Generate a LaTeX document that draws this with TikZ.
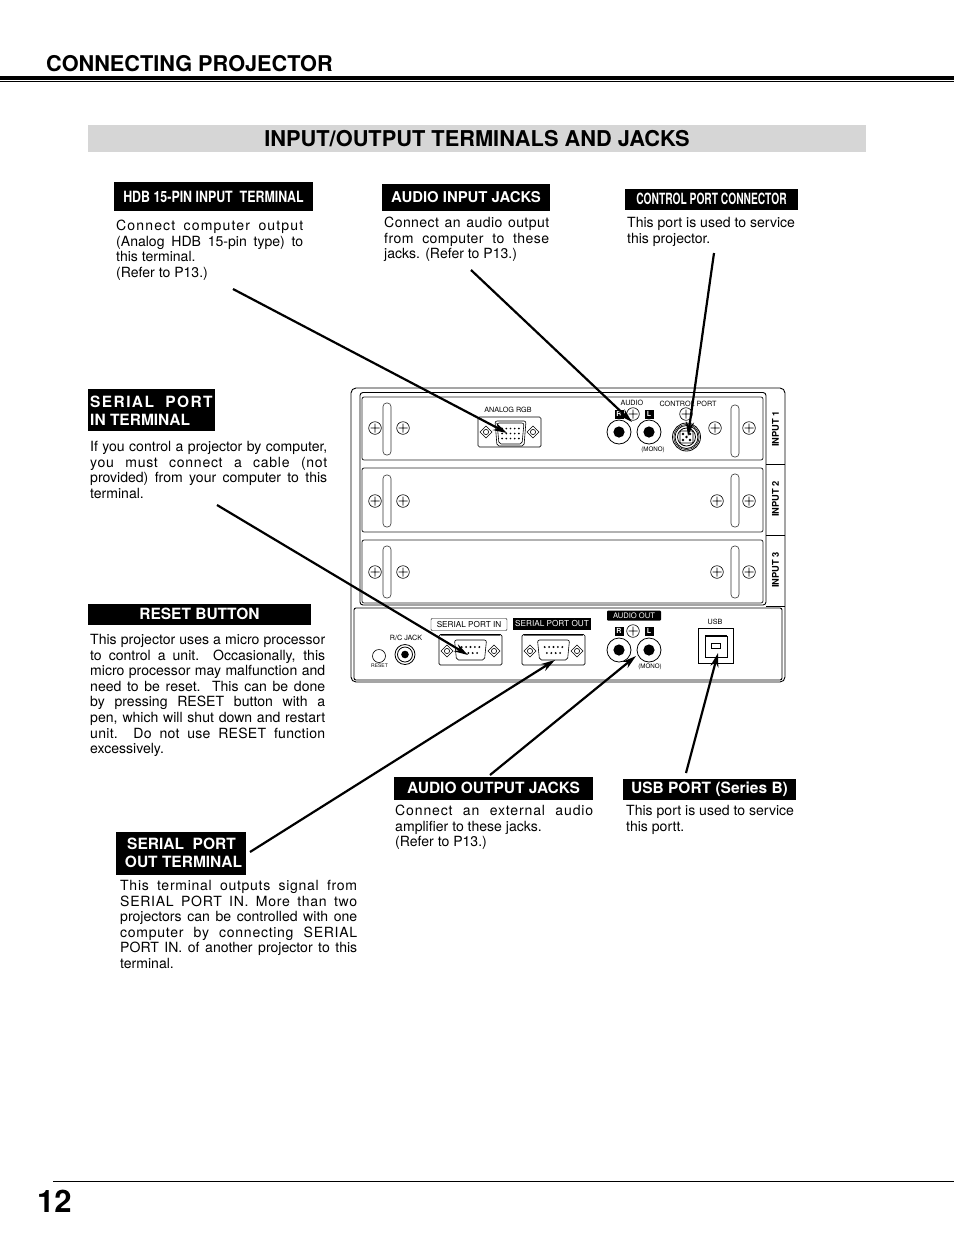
\documentclass[tikz,border=0pt]{standalone}
\usepackage{fontspec}
\usepackage{graphicx}
\setmainfont{TeX Gyre Heros}
\usetikzlibrary{arrows.meta}
\definecolor{band}{HTML}{D6D6D6}
\newcommand{\J}[2]{\makebox[#1pt][s]{#2}}
\newcommand{\LJ}[3]{\makebox[#2pt][s]{\addfontfeature{LetterSpace=#1}#3}}
\newcommand{\scr}[2]{\draw[panel] (#1,#2) circle (6.3) (#1-4.5,#2)--(#1+4.5,#2) (#1,#2-4.5)--(#1,#2+4.5);}
\newcommand{\slot}[3]{\draw[panel,rounded corners=3.5,draw=black!80] (#1,#2) rectangle (#1+8,#3);}
\newcommand{\jack}[2]{\draw[line width=.8pt,fill=white] (#1,#2) circle (12); \fill (#1,#2) circle (5.6);}
\newcommand{\diam}[2]{\draw[panel] (#1,#2-6)--(#1+6,#2)--(#1,#2+6)--(#1-6,#2)--cycle (#1,#2) circle (2.6);}
\newcommand{\dbshell}[2]{\draw[panel,rounded corners=2,line width=.6pt] (#1-16,#2-10)--(#1+16,#2-10)--(#1+14,#2+10)--(#1-14,#2+10)--cycle;}
\newcommand{\dbpins}[2]{\foreach \i in {-2,...,2}{\fill (#1+\i*4.4,#2-3) circle (1.05);}\foreach \i in {-1.5,-.5,.5,1.5}{\fill (#1+\i*4.4,#2+3) circle (1.05);}}
\tikzset{
 panel/.style={line width=.6pt},
 lab/.style={fill=black,text=white,font=\bfseries\fontsize{15.5}{17}\selectfont,inner sep=0,align=center},
 para/.style={anchor=north west,inner sep=0,align=left,font=\fontsize{14.05}{15.6}\selectfont},
 tiny/.style={inner sep=0,font=\fontsize{7.2}{8}\selectfont},
 ptr/.style={line width=2.2pt,-{Stealth[length=14pt,width=8pt]}},
 inp/.style={inner sep=0,rotate=90,font=\bfseries\fontsize{9.3}{10}\selectfont},
}
\begin{document}
\begin{tikzpicture}[x=1pt,y=-1pt]
\useasboundingbox (0,0) rectangle (954,1235);
% header
\node[anchor=base west,inner sep=0,font=\bfseries\fontsize{21.7}{24}\selectfont] (head) at (46,71) {CONNECTING PROJECTOR};
\fill (0,76) rectangle (954,80);
\fill (0,81) rectangle (954,81.8);
\node[fill=band,minimum width=778pt,minimum height=27pt,inner sep=0,anchor=north west] (band) at (88,125) {};
\node[inner sep=0,font=\bfseries\fontsize{21.8}{24}\selectfont] (title) at (477,138.5) {INPUT/OUTPUT TERMINALS AND JACKS};
% footer
\draw[line width=.8pt] (53,1181.5)--(954,1181.5);
\node[anchor=base west,inner sep=0,font=\bfseries\fontsize{31}{34}\selectfont] (page) at (37,1212) {12};
% label boxes
\node[lab,minimum width=199pt,minimum height=29pt] (l1) at (213.5,196.5) {\scalebox{.8}[1]{HDB 15-PIN INPUT\ \ TERMINAL}};
\node[lab,font=\bfseries\fontsize{14.9}{17}\selectfont,minimum width=168pt,minimum height=27pt] (l2) at (466,197.5) {AUDIO INPUT JACKS};
\node[lab,minimum width=173pt,minimum height=21pt] (l3) at (711.5,199) {\scalebox{.66}[1]{CONTROL PORT CONNECTOR}};
\node[fill=black,minimum width=127pt,minimum height=42pt,inner sep=0] (l4) at (151.5,410) {};
\node[anchor=base west,inner sep=0,text=white,font=\bfseries\fontsize{15.5}{17}\selectfont] (l4a) at (90,407) {\addfontfeature{LetterSpace=9}SERIAL\ \ PORT};
\node[anchor=base west,inner sep=0,text=white,font=\bfseries\fontsize{15.5}{17}\selectfont] (l4b) at (90,425) {IN TERMINAL};
\node[lab,minimum width=223pt,minimum height=21pt] (l5) at (199.5,614) {RESET BUTTON};
\node[lab,minimum width=199pt,minimum height=23pt] (l6) at (493.5,788) {AUDIO OUTPUT JACKS};
\node[lab,minimum width=173pt,minimum height=21pt] (l7) at (709.5,789.5) {USB PORT (Series B)};
\node[lab,minimum width=130pt,minimum height=43pt] (l8) at (181,853.5) {};
\node[anchor=base,inner sep=0,text=white,font=\bfseries\fontsize{15.5}{17}\selectfont] (l8a) at (181.5,849) {SERIAL\ \ PORT};
\node[anchor=base,inner sep=0,text=white,font=\bfseries\fontsize{15.5}{17}\selectfont] (l8b) at (183.5,867) {OUT TERMINAL};
% paragraphs
\node[para] (p1) at (116,220) {\LJ{8}{187}{Connect computer output}\\\J{187}{(Analog HDB 15-pin type) to}\\this terminal.\\(Refer to P13.)};
\node[para] (p2) at (384,217) {\LJ{3}{165}{Connect an audio output}\\\LJ{3}{165}{from computer to these}\\jacks. (Refer to P13.)};
\node[para] (p3) at (627,217) {This port is used to service\\this projector.};
\node[para] (p4) at (90,441) {\J{237}{If you control a projector by computer,}\\\LJ{5}{237}{you must connect a cable (not}\\\J{237}{provided) from your computer to this}\\terminal.};
\node[para] (p5) at (90,634) {\J{235}{This projector uses a micro processor}\\\J{235}{to control a unit.\ \ Occasionally, this}\\\J{235}{micro processor may malfunction and}\\\J{235}{need to be reset.\ \ This can be done}\\\J{235}{by pressing RESET button with a}\\\J{235}{pen, which will shut down and restart}\\\LJ{2}{235}{unit.\ \ Do not use RESET function}\\excessively.};
\node[para] (p6) at (395,805) {\LJ{6}{198}{Connect an external audio}\\amplifier to these jacks.\\(Refer to P13.)};
\node[para] (p7) at (626,805) {This port is used to service\\this portt.};
\node[para] (p8) at (120,880) {\LJ{5}{237}{This terminal outputs signal from}\\\LJ{5}{237}{SERIAL PORT IN. More than two}\\\J{237}{projectors can be controlled with one}\\\LJ{5}{237}{computer by connecting SERIAL}\\\J{237}{PORT IN. of another projector to this}\\terminal.};
% panel frame
\draw[line width=.9pt,rounded corners=5] (351,388) rectangle (785,682);
\draw[line width=.9pt,rounded corners=3] (360,392.5) rectangle (766,605);
\draw[line width=.9pt,rounded corners=2] (354,608) rectangle (782,680);
\draw[line width=.8pt] (766,464.5)--(785,464.5) (766,535)--(785,535) (766,606)--(785,606);
\draw[line width=.8pt,black!85,rounded corners=2] (362,397) rectangle (763,460);
\draw[line width=.8pt,black!85,rounded corners=2] (362,468) rectangle (763,532);
\draw[line width=.8pt,black!85,rounded corners=2] (362,540) rectangle (763,603);
\node[inp] (i1) at (775.5,429) {INPUT 1};
\node[inp] (i2) at (775.5,499) {INPUT 2};
\node[inp] (i3) at (775.5,570) {INPUT 3};
\slot{383}{403}{455} \slot{383}{475}{527} \slot{383}{546}{598}
\slot{731}{405}{457} \slot{731}{474}{527} \slot{731}{546}{598}
\scr{375}{428} \scr{403}{428} \scr{375}{501} \scr{403}{501} \scr{375}{572} \scr{403}{572}
\scr{715}{428} \scr{749}{428} \scr{717}{501} \scr{749}{501} \scr{717}{572} \scr{749}{572}
% analog rgb
\node[tiny] (ta) at (508,410) {ANALOG RGB};
\draw[panel,line width=.7pt,rounded corners=1.5] (478,417) rectangle (541,447);
\diam{486}{432} \diam{533}{432}
\draw[panel,rounded corners=2] (497,423)--(524,423)--(522,444)--(499,444)--cycle;
\draw[panel,rounded corners=2] (495,421)--(526,421)--(524,446)--(497,446)--cycle;
\foreach \r in {-5,0,5}{\foreach \i in {-2,...,2}{\fill (510.5+\i*4.2,433.5+\r) circle (.95);}}
% audio in
\node[tiny] (tb) at (632,402.5) {AUDIO};
\node[tiny] (tc) at (688,404) {CONTROL PORT};
\node[fill=black,text=white,inner sep=0,minimum width=9pt,minimum height=9pt,font=\bfseries\fontsize{7}{8}\selectfont] (rr) at (619,414) {R};
\node[fill=black,text=white,inner sep=0,minimum width=9pt,minimum height=9pt,font=\bfseries\fontsize{7}{8}\selectfont] (ll) at (649,414) {L};
\scr{633}{414} \scr{686}{414}
\jack{619}{432} \jack{649}{432}
\node[tiny,font=\fontsize{6.2}{7}\selectfont] (td) at (653,450) {(MONO)};
\draw[line width=.8pt] (686.5,437) circle (14) circle (11.5) circle (9);
\draw[line width=.5pt] (686.5,437) circle (12.7);
\draw[panel,rounded corners=1,fill=white] (680,431) rectangle (693,443);
\foreach \p in {(683,434),(690,434),(683,440),(690,440),(686.5,437)}{\fill \p circle (1.3);}
% lower section
\node[draw,line width=.4pt,rounded corners=1,inner sep=0,minimum width=76pt,minimum height=12pt,font=\fontsize{8.2}{9}\selectfont] (si) at (469,624.5) {SERIAL PORT IN};
\node[fill=black,text=white,inner sep=0,minimum width=78pt,minimum height=12pt,font=\fontsize{8.2}{9}\selectfont] (so) at (552,624) {SERIAL PORT OUT};
\draw[panel,line width=.7pt,rounded corners=1.5] (439,634.5) rectangle (502,665);
\draw[panel,line width=.7pt,rounded corners=1.5] (522,634.5) rectangle (585,665);
\draw[line width=1pt,black!60] (441,635)--(500,635) (524,635)--(583,635);
\diam{447}{651} \diam{494}{651} \diam{530}{651} \diam{577}{651}
\dbshell{470.5}{650} \dbshell{553.5}{650}
\dbpins{470.5}{650} \dbpins{553.5}{650}
\node[tiny] (rc) at (406,637.5) {R/C JACK};
\draw[line width=.8pt] (405,654.5) circle (10) circle (7.5);
\fill (405,654.5) circle (3.8);
\draw[panel] (379,656) circle (6.5);
\node[tiny,font=\fontsize{5}{6}\selectfont] (rs) at (379.5,666) {RESET};
\node[fill=black,text=white,inner sep=0,minimum width=54pt,minimum height=10pt,font=\fontsize{7.6}{8}\selectfont,rounded corners=1] (ao) at (634,615.5) {AUDIO OUT};
\node[fill=black,text=white,inner sep=0,minimum width=9pt,minimum height=9pt,font=\bfseries\fontsize{7}{8}\selectfont] (r2) at (619,631) {R};
\node[fill=black,text=white,inner sep=0,minimum width=9pt,minimum height=9pt,font=\bfseries\fontsize{7}{8}\selectfont] (l2b) at (649,631) {L};
\scr{633}{631}
\jack{619}{650} \jack{649}{650}
\node[tiny,font=\fontsize{6.2}{7}\selectfont] (te) at (650,667) {(MONO)};
\node[tiny] (tu) at (715,621.5) {USB};
\draw[line width=.8pt] (698,628) rectangle (733,663);
\draw[line width=.7pt] (705,636) rectangle (727,657);
\draw[line width=1.3pt] (705,635.5)--(727,635.5);
\draw[line width=.7pt] (711.5,643.5) rectangle (720.5,648.5);
% connectors
\coordinate (a1) at (233,289); \coordinate (h1) at (507,433);
\coordinate (a2) at (471,270); \coordinate (h2) at (632,422);
\coordinate (a3) at (714,253); \coordinate (h3) at (688,436);
\coordinate (a4) at (217,505); \coordinate (h4) at (468,655);
\coordinate (a5) at (250,852); \coordinate (h5) at (555,660);
\coordinate (a6) at (490,775); \coordinate (h6) at (636,656);
\coordinate (a7) at (686,773); \coordinate (h7) at (718,653);
\foreach \n in {1,...,7}{\draw[ptr] (a\n)--(h\n);}
\end{tikzpicture}
\end{document}
